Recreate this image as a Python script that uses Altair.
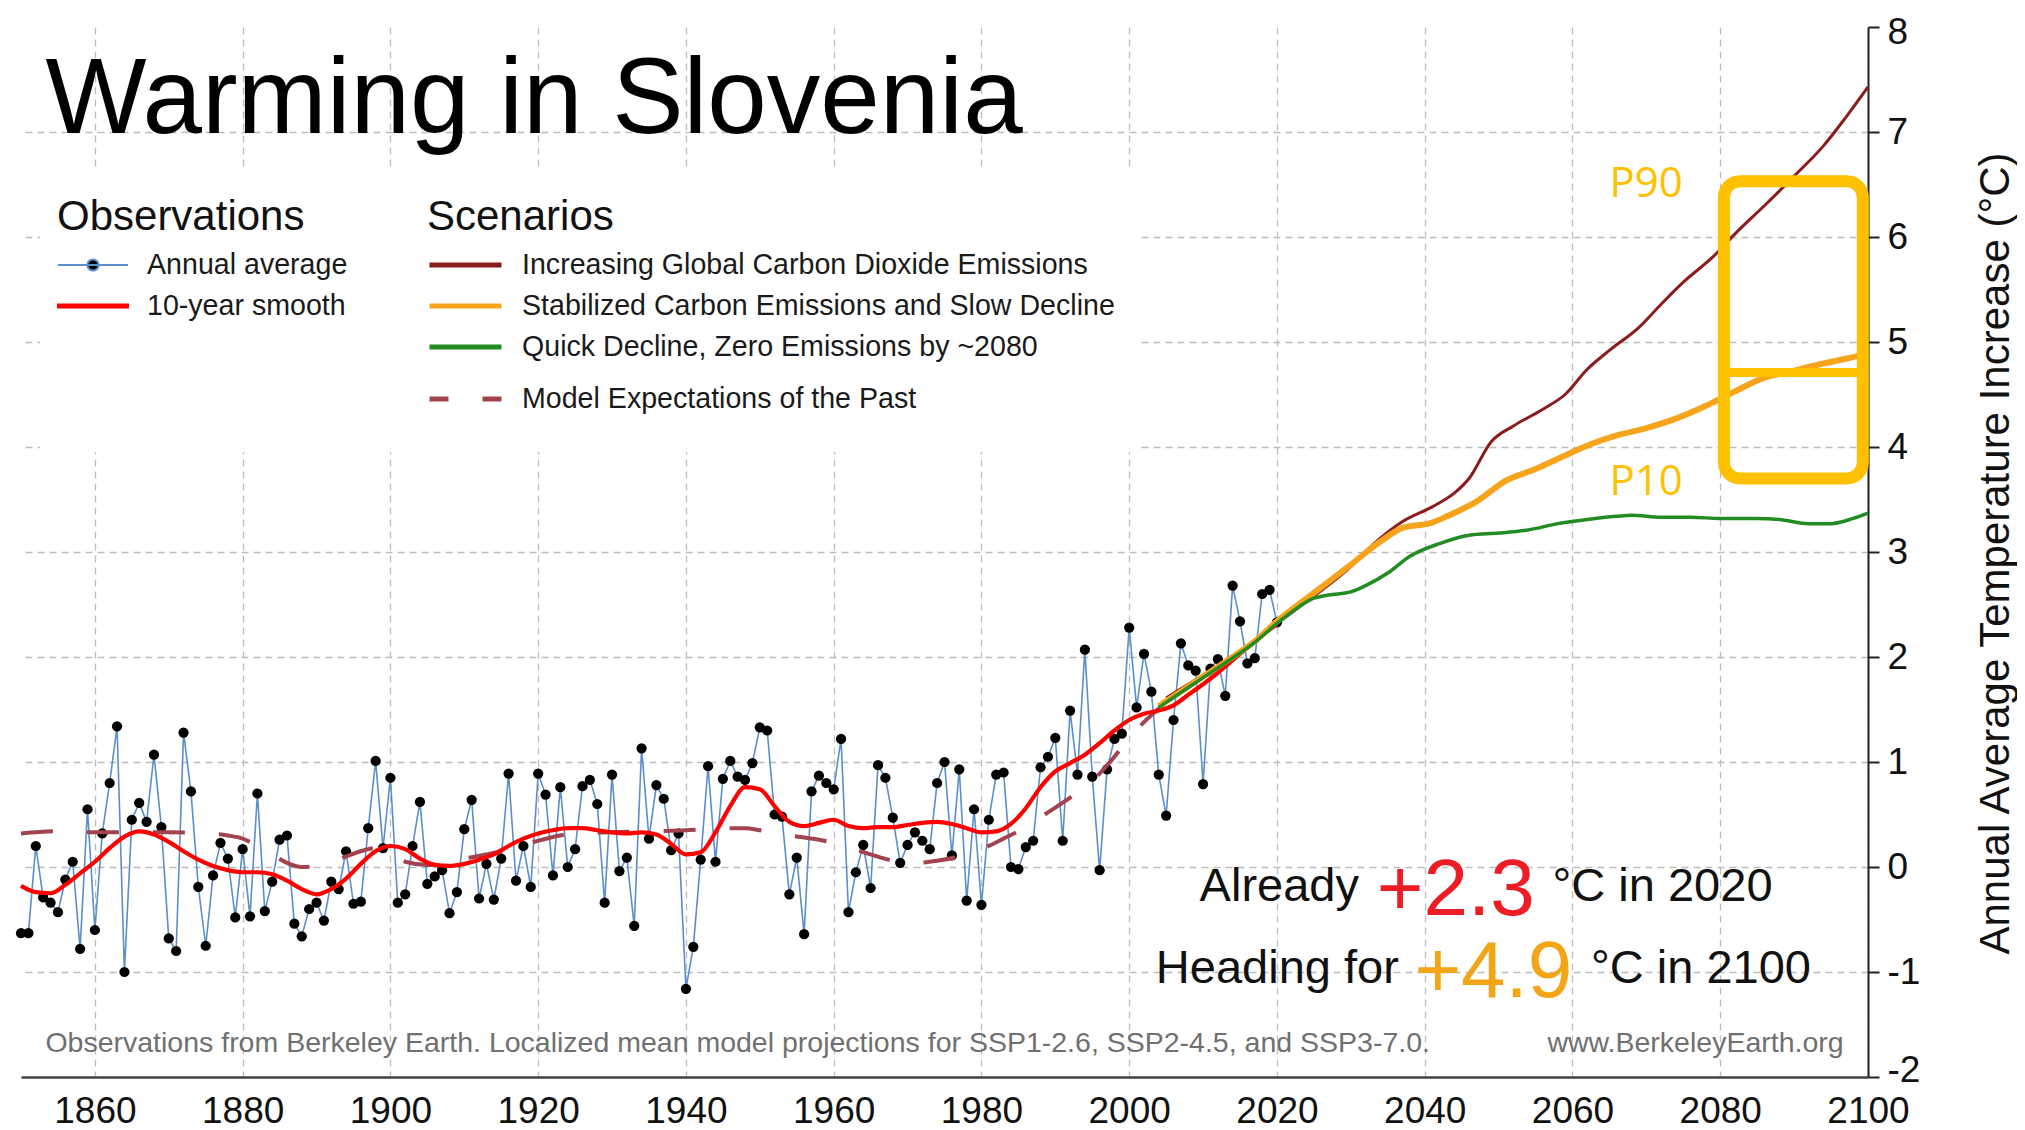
import altair as alt
import pandas as pd

FONT = "Liberation Sans, Arial, Helvetica, sans-serif"

# ---------------- data ----------------
obs_values = [
    -0.63, -0.63, 0.20, -0.29, -0.34, -0.43, -0.12, 0.05, -0.78, 0.55,   # 1850s
    -0.60, 0.32, 0.80, 1.34, -1.00, 0.45, 0.61, 0.43, 1.07, 0.38,       # 1860s
    -0.68, -0.80, 1.28, 0.72, -0.19, -0.75, -0.08, 0.23, 0.08, -0.48,   # 1870s
    0.17, -0.47, 0.70, -0.42, -0.14, 0.26, 0.30, -0.54, -0.66, -0.40,   # 1880s
    -0.34, -0.51, -0.14, -0.21, 0.15, -0.35, -0.33, 0.37, 1.01, 0.18,   # 1890s
    0.85, -0.34, -0.26, 0.20, 0.62, -0.16, -0.09, -0.03, -0.44, -0.24,  # 1900s
    0.36, 0.64, -0.30, 0.03, -0.31, 0.08, 0.89, -0.13, 0.20, -0.19,     # 1910s
    0.89, 0.69, -0.08, 0.76, 0.00, 0.17, 0.77, 0.83, 0.60, -0.34,       # 1920s
    0.88, -0.04, 0.09, -0.56, 1.13, 0.27, 0.78, 0.65, 0.16, 0.32,       # 1930s
    -1.16, -0.76, 0.07, 0.96, 0.05, 0.84, 1.01, 0.86, 0.83, 0.99,       # 1940s
    1.33, 1.30, 0.50, 0.48, -0.26, 0.09, -0.64, 0.72, 0.87, 0.80,       # 1950s
    0.74, 1.22, -0.43, -0.05, 0.21, -0.20, 0.97, 0.85, 0.47, 0.04,      # 1960s
    0.21, 0.33, 0.25, 0.17, 0.80, 1.00, 0.11, 0.93, -0.32, 0.55,        # 1970s
    -0.36, 0.45, 0.88, 0.90, 0.00, -0.02, 0.19, 0.25, 0.95, 1.05,       # 1980s
    1.23, 0.25, 1.49, 0.88, 2.07, 0.86, -0.03, 0.93, 1.22, 1.27,        # 1990s
    2.28, 1.52, 2.03, 1.67, 0.88, 0.49, 1.40, 2.13, 1.92, 1.87,         # 2000s
    0.79, 1.89, 1.98, 1.63, 2.68, 2.34, 1.94, 1.99, 2.60, 2.64,         # 2010s
    2.33,                                                                # 2020
]
obs_years = list(range(1850, 1850 + len(obs_values)))

smooth_years = list(range(1850, 2021, 2))
smooth_values = [
    -0.18, -0.24, -0.25, -0.17, -0.06, 0.05, 0.18, 0.29, 0.34, 0.31,
    0.24, 0.15, 0.07, 0.01, -0.03, -0.05, -0.05, -0.07, -0.13, -0.21,
    -0.26, -0.21, -0.11, 0.03, 0.15, 0.20, 0.17, 0.08, 0.02, 0.01,
    0.03, 0.07, 0.12, 0.20, 0.27, 0.32, 0.35, 0.37, 0.37, 0.35,
    0.33, 0.32, 0.33, 0.31, 0.22, 0.12, 0.14, 0.33, 0.58, 0.76,
    0.74, 0.58, 0.43, 0.39, 0.42, 0.45, 0.39, 0.37, 0.38, 0.38,
    0.40, 0.42, 0.43, 0.41, 0.37, 0.33, 0.34, 0.41, 0.56, 0.76,
    0.91, 0.99, 1.07, 1.18, 1.30, 1.40, 1.46, 1.49, 1.54, 1.64,
    1.74, 1.85, 1.97, 2.09, 2.21, 2.31,
]

model_years = [1850, 1855, 1860, 1865, 1870, 1875, 1878, 1880, 1882, 1884,
               1886, 1888, 1890, 1892, 1894, 1896, 1898, 1900, 1902, 1905,
               1910, 1915, 1920, 1925, 1930, 1935, 1940, 1945, 1948, 1950,
               1953, 1956, 1958, 1960, 1962, 1965, 1968, 1971, 1974, 1977,
               1980, 1983, 1986, 1989, 1992, 1995, 1998, 2000, 2002, 2005]
model_values = [0.32, 0.34, 0.33, 0.33, 0.33, 0.32, 0.30, 0.27, 0.20, 0.12,
                0.04, 0.00, 0.01, 0.05, 0.10, 0.15, 0.18, 0.13, 0.05, 0.02,
                0.08, 0.15, 0.25, 0.32, 0.33, 0.34, 0.35, 0.37, 0.37, 0.35,
                0.31, 0.28, 0.26, 0.23, 0.19, 0.12, 0.06, 0.04, 0.06, 0.10,
                0.17, 0.27, 0.38, 0.52, 0.66, 0.82, 1.05, 1.23, 1.38, 1.57]

ssp370_years = [2005, 2008, 2011, 2014, 2017, 2020, 2025, 2030, 2033, 2037,
                2041, 2044, 2046, 2049, 2052, 2056, 2059, 2062, 2065, 2069,
                2072, 2075, 2079, 2082, 2086, 2090, 2094, 2097, 2100]
ssp370_values = [1.61, 1.74, 1.87, 2.01, 2.16, 2.32, 2.58, 2.86, 3.07, 3.29,
                 3.43, 3.56, 3.70, 4.05, 4.20, 4.36, 4.50, 4.74, 4.92, 5.14,
                 5.36, 5.57, 5.81, 6.03, 6.30, 6.58, 6.87, 7.14, 7.43]

ssp245_years = [2004, 2008, 2011, 2014, 2017, 2020, 2025, 2030, 2034, 2037,
                2041, 2043, 2047, 2051, 2055, 2059, 2063, 2066, 2070, 2074,
                2078, 2082, 2086, 2089, 2093, 2097, 2100]
ssp245_values = [1.53, 1.72, 1.86, 2.00, 2.15, 2.34, 2.61, 2.88, 3.10, 3.23,
                 3.28, 3.34, 3.48, 3.68, 3.79, 3.92, 4.04, 4.11, 4.18, 4.27,
                 4.39, 4.53, 4.66, 4.71, 4.78, 4.84, 4.89]

ssp126_years = [2004, 2008, 2011, 2014, 2017, 2020, 2023, 2025, 2027, 2030,
                2032, 2035, 2038, 2042, 2046, 2050, 2054, 2058, 2062, 2066,
                2068, 2072, 2076, 2080, 2085, 2088, 2092, 2095, 2098, 2100]
ssp126_values = [1.52, 1.71, 1.85, 1.99, 2.14, 2.32, 2.48, 2.56, 2.59, 2.62,
                 2.68, 2.80, 2.96, 3.08, 3.16, 3.18, 3.21, 3.27, 3.31, 3.34,
                 3.35, 3.33, 3.33, 3.32, 3.32, 3.31, 3.27, 3.27, 3.32, 3.37]

OBS_SERIES = ["Annual average", "10-year smooth"]
SCEN_SERIES = ["Increasing Global Carbon Dioxide Emissions",
               "Stabilized Carbon Emissions and Slow Decline",
               "Quick Decline, Zero Emissions by ~2080"]
MODEL_SERIES = ["Model Expectations of the Past"]

x_ticks = list(range(1860, 2101, 20))
y_ticks = list(range(-2, 9))

# annotation texts
title_text = "Warming in Slovenia"
footer_text = ("Observations from Berkeley Earth. Localized mean model projections "
               "for SSP1-2.6, SSP2-4.5, and SSP3-7.0.")
site_text = "www.BerkeleyEarth.org"
line1 = ["Already", "+2.3", "\u00b0C in 2020"]
line2 = ["Heading for", "+4.9", "\u00b0C in 2100"]
p_labels = ["P90", "P10"]
box_range = {"x1": 2080.5, "x2": 2099.3, "y1": 3.70, "y2": 6.53, "mid": 4.71}

# ---------------- styles ----------------
BLUE = "#5B8FC9"
RED = "#FF0000"
SCEN_COLORS = ["#8B1C1C", "#F7A41D", "#228B22"]
MODEL_COLOR = "#A2434F"
GOLD = "#FFC000"

X_DOMAIN = [1850, 2100]
Y_DOMAIN = [-2, 8]

x_axis = alt.Axis(values=x_ticks, title=None, labelExpr="'' + datum.value",
                  labelFont=FONT, labelFontSize=37, labelColor="#111111",
                  labelBaseline="alphabetic", labelPadding=45, labelFlush=False,
                  labelOverlap=False, ticks=False, tickSize=0,
                  domainColor="#444444", domainWidth=2.5,
                  grid=True, gridColor="#bdbdbd", gridDash=[7, 5], gridWidth=1.3)

y_axis = alt.Axis(orient="right", values=y_ticks,
                  title="Annual Average Temperature Increase (\u00b0C)",
                  labelExpr="'' + datum.value", labelFont=FONT, labelFontSize=37,
                  labelColor="#111111", labelPadding=8, labelFlush=False,
                  labelOffset={"condition": [{"test": "datum.value <= -2", "value": -7},
                                             {"test": "datum.value >= 8", "value": 5}],
                               "value": 0},
                  tickSize=11, tickWidth=2, tickColor="#222222",
                  domainColor="#222222", domainWidth=2,
                  grid=True, gridColor="#bdbdbd", gridDash=[7, 5], gridWidth=1.3,
                  gridOpacity={"condition": {"test": "datum.value >= 8", "value": 0}, "value": 1},
                  titleFont=FONT, titleFontSize=42, titleFontWeight="normal",
                  titleColor="#111111", titleAngle=270, titleX=140, titleY=526,
                  titleAlign="center", titleBaseline="alphabetic")


def X(field="year"):
    return alt.X(f"{field}:Q", scale=alt.Scale(domain=X_DOMAIN, nice=False, zero=False), axis=x_axis)


def Y(field="value"):
    return alt.Y(f"{field}:Q", scale=alt.Scale(domain=Y_DOMAIN, nice=False, zero=False), axis=y_axis)


legend_common = dict(orient="none", direction="vertical",
                     titleFont=FONT, titleFontSize=42, titleFontWeight="normal",
                     titleColor="#111111", titlePadding=11,
                     labelFont=FONT, labelFontSize=28.6, labelColor="#1a1a1a",
                     labelOffset=18, labelLimit=1200, titleLimit=1200,
                     clipHeight=30, rowPadding=11, padding=0)

obs_legend = alt.Legend(title="Observations", legendX=36, legendY=170, symbolSize=4900,
                        symbolStrokeWidth=2, symbolOpacity=1, **legend_common)
scen_legend = alt.Legend(title="Scenarios", legendX=406, legendY=170, symbolType="stroke",
                         symbolSize=5184, symbolStrokeWidth=5, **legend_common)
model_legend = alt.Legend(title=None, legendX=406, legendY=357, symbolType="stroke",
                          symbolSize=5184, symbolStrokeWidth=5, symbolDashOffset=13,
                          symbolStrokeColor=MODEL_COLOR, **legend_common)

PATH_DOT = "M-1,0L1,0M0.16,0A0.16,0.16,0,1,1,-0.16,0A0.16,0.16,0,1,1,0.16,0Z"
PATH_BAR = "M-1,-0.045L1,-0.045L1,0.045L-1,0.045Z"

# ---------------- frames ----------------
obs_df = pd.DataFrame({"year": obs_years, "value": obs_values})
smooth_df = pd.DataFrame({"year": smooth_years, "value": smooth_values})
model_df = pd.DataFrame({"year": model_years, "value": model_values, "series": MODEL_SERIES[0]})
scen_dfs = [
    pd.DataFrame({"year": ssp370_years, "value": ssp370_values, "series": SCEN_SERIES[0]}),
    pd.DataFrame({"year": ssp245_years, "value": ssp245_values, "series": SCEN_SERIES[1]}),
    pd.DataFrame({"year": ssp126_years, "value": ssp126_values, "series": SCEN_SERIES[2]}),
]
scen_widths = [3, 6, 3.5]

# legend carrier for the observation legend, hidden beneath the white legend panel
legend_df = pd.DataFrame({"series": OBS_SERIES, "year": [1900, 1920], "value": [5.5, 5.5]})
legend_layer = alt.Chart(legend_df).mark_point(filled=True, size=20).encode(
    x=X(), y=Y(),
    shape=alt.Shape("series:N", scale=alt.Scale(domain=OBS_SERIES, range=[PATH_DOT, PATH_BAR]), legend=obs_legend),
    fill=alt.Fill("series:N", scale=alt.Scale(domain=OBS_SERIES, range=["#000000", RED]), legend=obs_legend),
    stroke=alt.Stroke("series:N", scale=alt.Scale(domain=OBS_SERIES, range=[BLUE, RED]), legend=obs_legend),
)

panel_df = pd.DataFrame({"x1": [1852.6], "x2": [2001.6], "y1": [6.66], "y2": [3.95]})
panel = alt.Chart(panel_df).mark_rect(color="white").encode(
    x=X("x1"), x2="x2", y=Y("y1"), y2="y2")

obs_line = alt.Chart(obs_df).mark_line(color=BLUE, strokeWidth=1.6).encode(x=X(), y=Y())

dots = alt.Chart(obs_df).mark_circle(color="black", size=105, opacity=1).encode(x=X(), y=Y())

model_line = alt.Chart(model_df).mark_line(strokeWidth=4, interpolate="monotone", color=MODEL_COLOR).encode(
    x=X(), y=Y(),
    strokeDash=alt.StrokeDash("series:N", scale=alt.Scale(domain=MODEL_SERIES, range=[[32, 34]]), legend=model_legend),
)
smooth_line = alt.Chart(smooth_df).mark_line(color=RED, strokeWidth=4.2, interpolate="monotone").encode(x=X(), y=Y())
scen_lines = [
    alt.Chart(d).mark_line(strokeWidth=w, interpolate="monotone").encode(
        x=X(), y=Y(),
        color=alt.Color("series:N", scale=alt.Scale(domain=SCEN_SERIES, range=SCEN_COLORS), legend=scen_legend),
    )
    for d, w in zip(scen_dfs, scen_widths)
]


def text_layer(txt, x, y, size, color, align="left", font=FONT):
    d = pd.DataFrame({"x": [x], "y": [y], "t": [txt]})
    return alt.Chart(d).mark_text(align=align, baseline="alphabetic", fontSize=size,
                                  font=font, color=color).encode(x=X("x"), y=Y("y"), text="t:N")


texts = [
    text_layer(title_text, 1853.3, 6.99, 107, "#000000"),
    text_layer(footer_text, 1853.3, -1.765, 28.5, "#707070"),
    text_layer(site_text, 2096.7, -1.765, 28.5, "#707070", align="right"),
    text_layer(line1[0], 2031.1, -0.325, 47, "#111111", align="right"),
    text_layer(line1[1], 2033.5, -0.46, 80, "#EE1C25"),
    text_layer(line1[2], 2057.3, -0.325, 47, "#111111"),
    text_layer(line2[0], 2036.5, -1.105, 47, "#111111", align="right"),
    text_layer(line2[1], 2038.6, -1.24, 80, "#F2A516"),
    text_layer(line2[2], 2062.5, -1.105, 47, "#111111"),
    text_layer(p_labels[0], 2065.0, 6.385, 42, GOLD, font="Open Sans"),
    text_layer(p_labels[1], 2065.0, 3.543, 42, GOLD, font="Open Sans"),
]

box_df = pd.DataFrame({k: [v] for k, v in box_range.items()})
box = alt.Chart(box_df).mark_rect(filled=False, color=GOLD, strokeWidth=12, cornerRadius=16).encode(
    x=X("x1"), x2="x2", y=Y("y1"), y2="y2")
crossbar = alt.Chart(box_df).mark_rule(color=GOLD, strokeWidth=9).encode(
    x=X("x1"), x2="x2", y=Y("mid"))

chart = alt.layer(
    legend_layer, panel, obs_line, dots, model_line, smooth_line, *scen_lines, *texts, box, crossbar
).properties(
    width=1847, height=1050,
    padding={"left": 13, "top": 19, "right": 149, "bottom": 53},
    autosize=alt.AutoSizeParams(type="none"),
    background="white",
).configure_view(stroke=None)

chart.save("out.html", embed_options={"renderer": "svg", "actions": False})
